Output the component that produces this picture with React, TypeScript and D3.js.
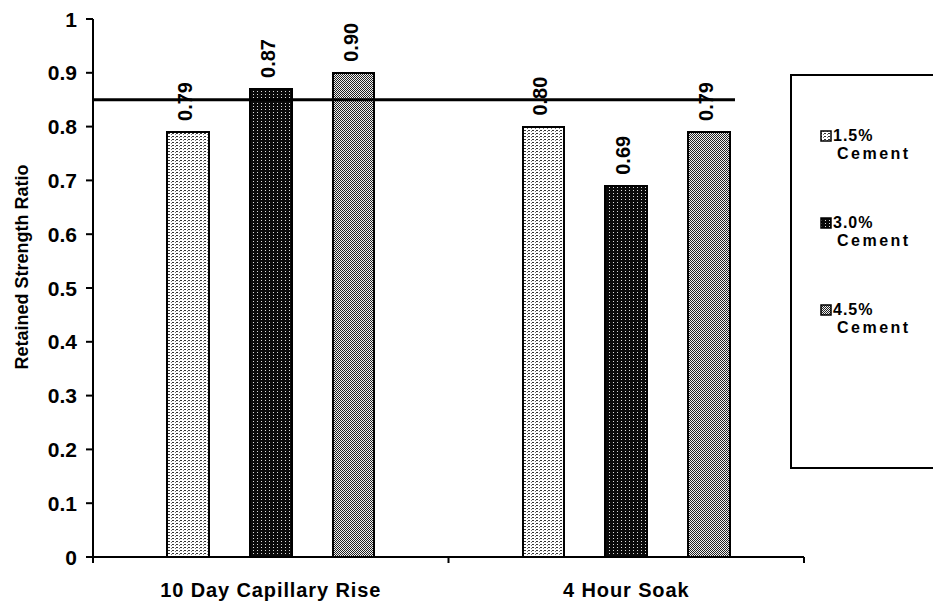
import React from "react";
import * as d3 from "d3";

const categories = ["10 Day Capillary Rise", "4 Hour Soak"];
const seriesKeys = ["1.5%", "3.0%", "4.5%"];
const seriesSuffix = "Cement";
const values15 = [0.79, 0.8];
const values30 = [0.87, 0.69];
const values45 = [0.9, 0.79];
const threshold = 0.85;
const yTicks = [0, 0.1, 0.2, 0.3, 0.4, 0.5, 0.6, 0.7, 0.8, 0.9, 1];
const yTickLabels = ["0", "0.1", "0.2", "0.3", "0.4", "0.5", "0.6", "0.7", "0.8", "0.9", "1"];
const yTitle = "Retained Strength Ratio";

const W = 933;
const H = 602;
const margin = { left: 93, right: 129, top: 19, bottom: 45 };
const FONT = "'Liberation Sans', Arial, sans-serif";

export default function App() {
  const seriesValues = [values15, values30, values45];
  const patternIds = ["pat15", "pat30", "pat45"];

  const x0 = d3
    .scaleBand<string>()
    .domain(categories)
    .range([margin.left, W - margin.right])
    .paddingInner(0)
    .paddingOuter(0);
  const x1 = d3
    .scaleBand<string>()
    .domain(seriesKeys)
    .range([0, x0.bandwidth()])
    .paddingInner(0.494)
    .paddingOuter(0.894);
  const y = d3.scaleLinear().domain([0, 1]).range([H - margin.bottom, margin.top]);

  const xLeft = margin.left;
  const xRight = W - margin.right;
  const yBase = y(0);

  const lastCat = categories[categories.length - 1];
  const lastSer = seriesKeys[seriesKeys.length - 1];
  const lineEnd = (x0(lastCat) ?? 0) + (x1(lastSer) ?? 0) + x1.bandwidth() + 5;

  const xTickPositions = [xLeft, ...categories.map((c) => (x0(c) ?? 0) + x0.bandwidth())];

  const legend = { x: 791, y: 75, w: 160, h: 393 };
  const legendItemY = [141, 228, 315];

  return (
    <svg
      width={W}
      height={H}
      style={{ position: "absolute", left: 0, top: 0, background: "#fff" }}
      fontFamily={FONT}
    >
      <defs>
        <pattern id="pat15" width={4} height={3} patternUnits="userSpaceOnUse">
          <rect width={4} height={3} fill="#fff" />
          <rect x={0} y={1} width={2} height={1} fill="#333" />
          <rect x={3} y={2} width={1} height={1} fill="#777" />
        </pattern>
        <pattern id="pat30" width={4} height={3} patternUnits="userSpaceOnUse">
          <rect width={4} height={3} fill="#0a0a0a" />
          <rect x={1} y={1} width={1} height={1} fill="#ddd" />
        </pattern>
        <pattern id="pat45" width={2} height={2} patternUnits="userSpaceOnUse">
          <rect width={2} height={2} fill="#f0f0f0" />
          <rect x={0} y={0} width={1} height={1} fill="#222" />
          <rect x={1} y={1} width={1} height={1} fill="#222" />
        </pattern>
      </defs>

      {/* bars */}
      {categories.map((cat, ci) => (
        <g key={cat}>
          {seriesKeys.map((s, si) => {
            const v = seriesValues[si][ci];
            const bx = (x0(cat) ?? 0) + (x1(s) ?? 0);
            const by = y(v);
            return (
              <rect
                key={s}
                x={bx}
                y={by}
                width={x1.bandwidth()}
                height={yBase - by}
                fill={`url(#${patternIds[si]})`}
                stroke="#000"
                strokeWidth={2}
                shapeRendering="crispEdges"
              />
            );
          })}
        </g>
      ))}

      {/* threshold line */}
      <line
        x1={xLeft}
        x2={lineEnd}
        y1={y(threshold)}
        y2={y(threshold)}
        stroke="#000"
        strokeWidth={3}
      />

      {/* value labels */}
      {categories.map((cat, ci) =>
        seriesKeys.map((s, si) => {
          const v = seriesValues[si][ci];
          const cx = (x0(cat) ?? 0) + (x1(s) ?? 0) + x1.bandwidth() / 2;
          const ty = y(v) - 11;
          return (
            <text
              key={cat + s}
              transform={`translate(${cx + 4},${ty}) rotate(-90)`}
              fontSize={20}
              fontWeight="bold"
              textAnchor="start"
              fill="#000"
            >
              {v.toFixed(2)}
            </text>
          );
        })
      )}

      {/* y axis */}
      <line x1={xLeft} x2={xLeft} y1={y(1)} y2={yBase} stroke="#000" strokeWidth={2} />
      {yTicks.map((t, i) => (
        <g key={t}>
          <line x1={xLeft - 7} x2={xLeft} y1={y(t)} y2={y(t)} stroke="#000" strokeWidth={2} />
          <text
            x={xLeft - 16}
            y={y(t)}
            dy="0.36em"
            fontSize={21}
            fontWeight="bold"
            textAnchor="end"
          >
            {yTickLabels[i]}
          </text>
        </g>
      ))}

      {/* x axis */}
      <line x1={xLeft} x2={xRight} y1={yBase} y2={yBase} stroke="#000" strokeWidth={2} />
      {xTickPositions.map((p, i) => (
        <line key={i} x1={p} x2={p} y1={yBase} y2={yBase + 6} stroke="#000" strokeWidth={2} />
      ))}
      {categories.map((cat) => (
        <text
          key={cat}
          x={(x0(cat) ?? 0) + x0.bandwidth() / 2}
          y={597}
          fontSize={20}
          fontWeight="bold"
          letterSpacing={0.9}
          textAnchor="middle"
        >
          {cat}
        </text>
      ))}

      {/* y title */}
      <text
        transform={`translate(28,${(y(0) + y(1)) / 2 - 21}) rotate(-90)`}
        fontSize={18}
        fontWeight="bold"
        textAnchor="middle"
      >
        {yTitle}
      </text>

      {/* legend */}
      <rect
        x={legend.x}
        y={legend.y}
        width={legend.w}
        height={legend.h}
        fill="#fff"
        stroke="#000"
        strokeWidth={2}
      />
      {seriesKeys.map((s, i) => (
        <g key={s}>
          <rect
            x={821}
            y={legendItemY[i] - 10}
            width={10}
            height={10}
            fill={`url(#${patternIds[i]})`}
            stroke="#000"
            strokeWidth={1.5}
          />
          <text x={833} y={legendItemY[i]} fontSize={16} fontWeight="bold" letterSpacing={1}>
            {s}
          </text>
          <text x={837} y={legendItemY[i] + 18} fontSize={16} fontWeight="bold" letterSpacing={2.5}>
            {seriesSuffix}
          </text>
        </g>
      ))}
    </svg>
  );
}
